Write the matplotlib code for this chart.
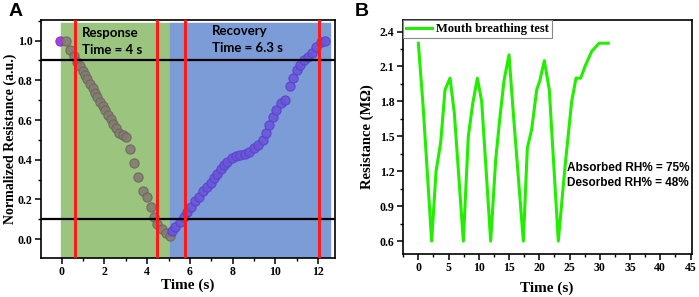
import matplotlib
matplotlib.use('Agg')
import matplotlib.pyplot as plt
from matplotlib.ticker import MultipleLocator

# ====== DATOS PANEL A ======
resp_t = [0.19, 0.39, 0.55, 0.73, 0.86, 0.98, 1.09, 1.20, 1.32, 1.45, 1.56, 1.67,
          1.79, 1.92, 2.04, 2.17, 2.29, 2.42, 2.54, 2.70, 2.88, 3.00, 3.19, 3.40,
          3.58, 3.79, 3.97, 4.16, 4.32, 4.47, 4.68, 4.88, 5.06]
resp_r = [1.00, 0.953, 0.923, 0.894, 0.872, 0.849, 0.827, 0.805, 0.782, 0.760, 0.738, 0.715,
          0.693, 0.671, 0.648, 0.626, 0.604, 0.581, 0.559, 0.537, 0.525, 0.517, 0.453, 0.383,
          0.315, 0.245, 0.215, 0.164, 0.114, 0.077, 0.050, 0.030, 0.017]
rec_t = [-0.08, 5.14, 5.30, 5.53, 5.72, 5.87, 6.03, 6.23, 6.44, 6.62, 6.78, 6.97, 7.12,
         7.28, 7.43, 7.59, 7.75, 7.95, 8.15, 8.34, 8.57, 8.77, 8.99, 9.19, 9.40,
         9.55, 9.71, 9.90, 10.05, 10.24, 10.44, 10.68, 10.83, 10.99, 11.14, 11.33,
         11.53, 11.73, 11.92, 12.11, 12.31]
rec_r = [1.00, 0.040, 0.064, 0.089, 0.114, 0.139, 0.164, 0.190, 0.215, 0.245, 0.265, 0.285, 0.307,
         0.329, 0.352, 0.374, 0.391, 0.408, 0.419, 0.424, 0.430, 0.441, 0.458, 0.475, 0.500,
         0.534, 0.576, 0.614, 0.651, 0.685, 0.701, 0.772, 0.810, 0.852, 0.877, 0.903,
         0.919, 0.936, 0.970, 0.995, 1.00]
lineas_rojas = [0.6, 4.47, 5.76, 12.05]
umbrales = [0.9, 0.1]
zona_resp = (-0.05, 5.06)
zona_rec = (5.06, 12.55)

# ====== DATOS PANEL B ======
resp_b_t = [0.0, 0.8, 2.2, 2.93, 3.7, 4.41, 5.24, 5.95, 7.44, 8.26, 8.99, 9.76, 10.47,
            11.96, 12.79, 13.5, 14.17, 14.99, 15.7, 17.36, 18.02, 18.74, 19.57, 20.1,
            20.83, 21.65, 23.14, 24.25, 25.35, 26.07, 26.84, 27.55, 28.66, 29.9, 31.4]
resp_b_r = [2.3, 1.75, 0.6, 1.2, 1.45, 1.9, 2.0, 1.7, 0.6, 1.5, 1.78, 2.0, 1.8,
            0.6, 1.3, 1.67, 1.98, 2.2, 1.7, 0.6, 1.4, 1.56, 1.9, 1.98,
            2.15, 1.9, 0.6, 1.24, 1.8, 2.0, 2.0, 2.1, 2.23, 2.3, 2.3]

serif = 'Liberation Serif'

fig = plt.figure(figsize=(6.99, 2.97), dpi=100)
axA = fig.add_axes([0.0587, 0.131, 0.4203, 0.802])
axB = fig.add_axes([0.576, 0.145, 0.4136, 0.788])

# ====== PANEL A ======
axA.set_xlim(-0.97, 12.78)
axA.set_ylim(-0.095, 1.104)
ymax_frac = (1.086 + 0.095) / (1.104 + 0.095)
axA.axvspan(*zona_resp, ymin=0, ymax=ymax_frac, color='#9bc47f', zorder=0)
axA.axvspan(*zona_rec, ymin=0, ymax=ymax_frac, color='#7b9cd6', zorder=0)
axA.scatter(resp_t, resp_r, s=44, facecolor='#847c72', edgecolor='#6c655d', linewidth=0.8, alpha=0.9, zorder=3)
axA.scatter(rec_t[1:], rec_r[1:], s=44, facecolor='#6a55d8', edgecolor='#5a40d0', linewidth=0.8, alpha=0.9, zorder=3)
axA.scatter(rec_t[:1], rec_r[:1], s=44, facecolor='#a43fe0', edgecolor='#9030d8', linewidth=0.8, zorder=2)
for y in umbrales:
    axA.axhline(y, color='black', linewidth=1.6, zorder=4)
for x in lineas_rojas:
    axA.axvline(x, color='#ff1a1a', linewidth=2.2, zorder=5)

axA.text(0.93, 1.038, 'Response', fontsize=9.5, fontfamily='Lato', fontweight='bold', va='center', zorder=6)
axA.text(0.93, 0.953, 'Time = 4 s', fontsize=9.5, fontfamily='Lato', fontweight='bold', va='center', zorder=6)
axA.text(7.03, 1.046, 'Recovery', fontsize=9.5, fontfamily='Lato', fontweight='bold', va='center', zorder=6)
axA.text(7.03, 0.961, 'Time = 6.3 s', fontsize=9.5, fontfamily='Lato', fontweight='bold', va='center', zorder=6)

axA.xaxis.set_major_locator(MultipleLocator(2))
axA.xaxis.set_minor_locator(MultipleLocator(1))
axA.yaxis.set_major_locator(MultipleLocator(0.2))
axA.yaxis.set_minor_locator(MultipleLocator(0.1))
axA.set_xlabel('Time (s)', fontfamily=serif, fontweight='bold', fontsize=11, labelpad=0)
axA.set_ylabel('Normalized Resistance (a.u.)', fontfamily=serif, fontweight='bold', fontsize=10)
axA.yaxis.set_label_coords(-0.082, 0.5)

# ====== PANEL B ======
axB.plot(resp_b_t, resp_b_r, color='#22ee00', linewidth=2.2, label='Mouth breathing test')
axB.set_xlim(-2.6, 45.2)
axB.set_ylim(0.49, 2.5)
axB.xaxis.set_major_locator(MultipleLocator(5))
axB.xaxis.set_minor_locator(MultipleLocator(2.5))
axB.yaxis.set_major_locator(MultipleLocator(0.3))
axB.yaxis.set_minor_locator(MultipleLocator(0.15))
axB.set_xlabel('Time (s)', fontfamily=serif, fontweight='bold', fontsize=11, labelpad=5)
axB.set_ylabel('Resistance (M\u03a9)', fontfamily=serif, fontweight='bold', fontsize=10.5, labelpad=4)
axB.text(24.5, 1.228, 'Absorbed RH% = 75%', fontsize=8.5, fontfamily='Liberation Sans', fontweight='bold', va='center')
axB.text(24.5, 1.096, 'Desorbed RH% = 48%', fontsize=8.5, fontfamily='Liberation Sans', fontweight='bold', va='center')
leg = axB.legend(loc='upper left', borderaxespad=0, handlelength=2.1, handletextpad=0.3,
                 borderpad=0.25, fancybox=False, framealpha=1,
                 prop={'family': serif, 'weight': 'bold', 'size': 9})
leg.get_frame().set_edgecolor('#888888')
leg.get_frame().set_linewidth(0.8)

for ax in (axA, axB):
    for sp in ax.spines.values():
        sp.set_linewidth(1.2)
    ax.tick_params(which='major', direction='out', length=4, width=1.1, labelsize=8.5, pad=2)
    ax.tick_params(which='minor', direction='out', length=2, width=1.0)
    for lab in ax.get_xticklabels() + ax.get_yticklabels():
        lab.set_fontfamily(serif)
        lab.set_fontweight('bold')

fig.text(0.012, 0.99, 'A', fontsize=14, fontweight='bold', fontfamily='Liberation Sans', va='top')
fig.text(0.508, 0.99, 'B', fontsize=14, fontweight='bold', fontfamily='Liberation Sans', va='top')

fig.savefig('out.png', dpi=100)
